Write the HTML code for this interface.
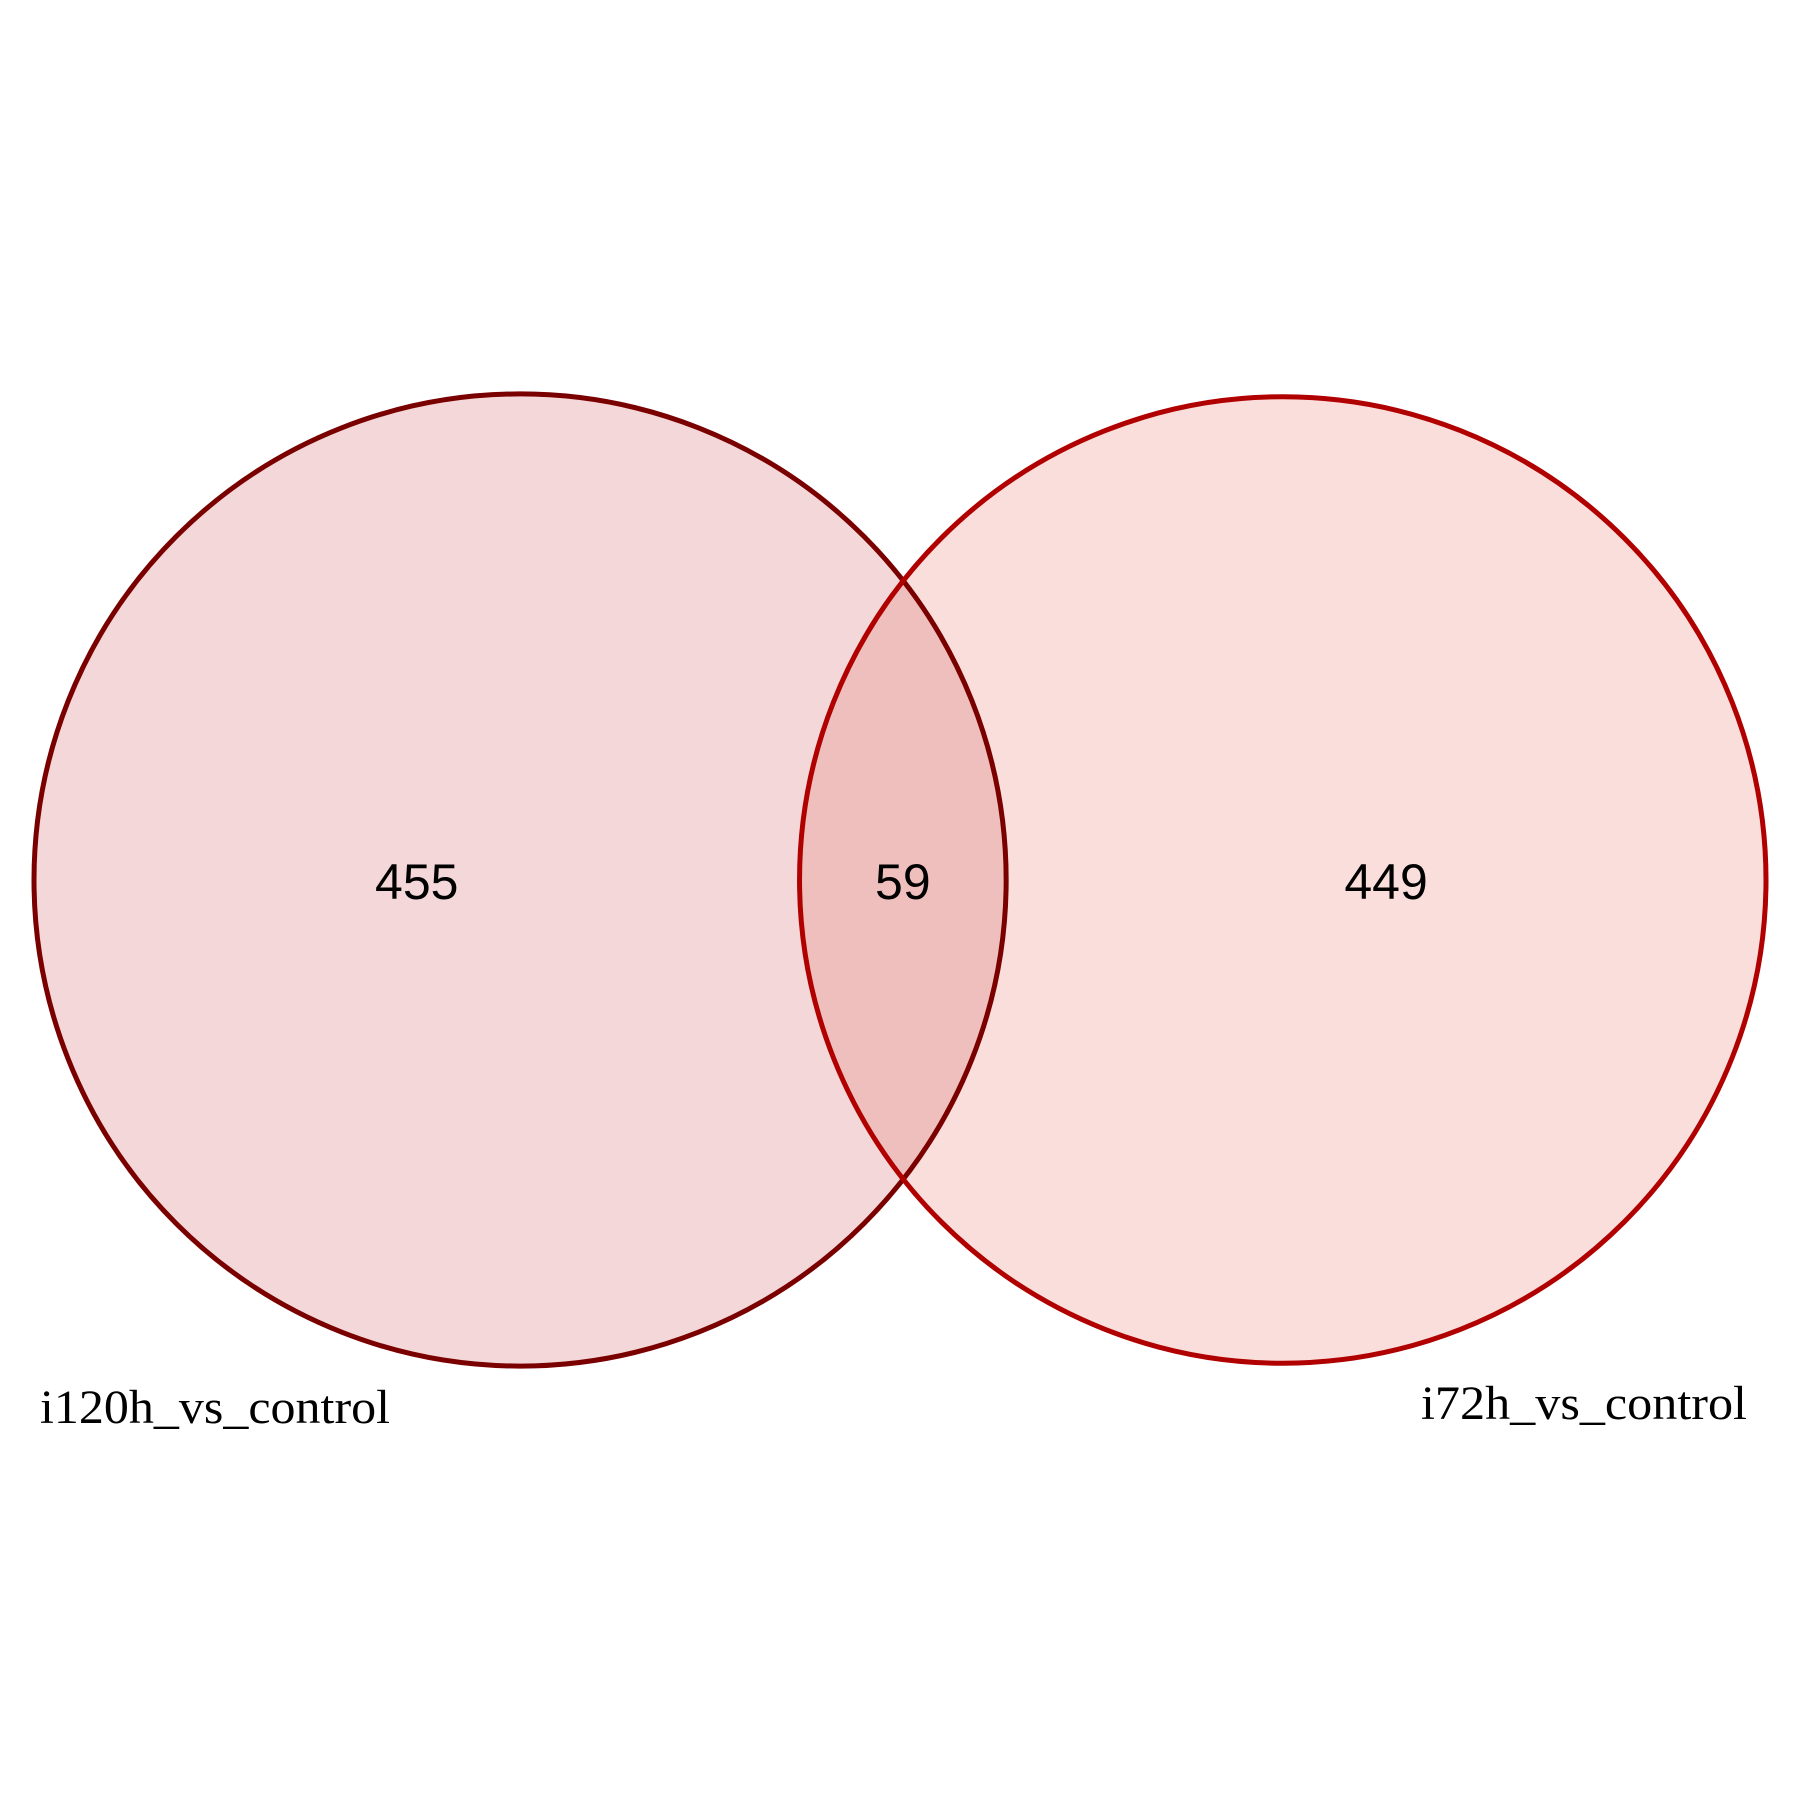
<!DOCTYPE html>
<html><head><meta charset="utf-8"><style>html,body{margin:0;padding:0;background:#fff}svg{display:block}</style></head>
<body>
<svg id="chart" width="1800" height="1800" viewBox="0 0 1800 1800" xmlns="http://www.w3.org/2000/svg">
<defs><clipPath id="clipLeft"><circle id="clipC" cx="520" cy="880" r="486"/></clipPath></defs>
<rect width="1800" height="1800" fill="#fff"/>
<g id="g"></g>
</svg>
<script>
const setNames = ["i120h_vs_control", "i72h_vs_control"];
const onlyCounts = [455, 449];
const sharedCount = [59];
const ns = "http://www.w3.org/2000/svg";
const g = document.getElementById('g');
const k = 21.44;
const totals = [onlyCounts[0] + sharedCount[0], onlyCounts[1] + sharedCount[0]];
const rL = k * Math.sqrt(totals[0]), rR = k * Math.sqrt(totals[1]);
const cy = 880;
const cxL = 34 + rL, cxR = 1766 - rR;
function mk(tag, attrs) { const e = document.createElementNS(ns, tag); for (const a in attrs) e.setAttribute(a, attrs[a]); g.appendChild(e); return e; }
document.getElementById('clipC').setAttribute('cx', cxL);
document.getElementById('clipC').setAttribute('r', rL);
let c1 = mk('circle', {cx: cxL, cy: cy, r: rL, fill: '#f4d7d8'});


let c2 = mk('circle', {cx: cxR, cy: cy, r: rR, fill: '#f9dedb'});


let ci = mk('circle', {cx: cxR, cy: cy, r: rR, fill: '#efbfbd', 'clip-path': 'url(#clipLeft)'});


let s1 = mk('circle', {cx: cxL, cy: cy, r: rL, fill: 'none', stroke: '#7a0000', 'stroke-width': 5});


let s2 = mk('circle', {cx: cxR, cy: cy, r: rR, fill: 'none', stroke: '#b00000', 'stroke-width': 5});


const interL = cxR - rR, interR = cxL + rL;
const midX = (interL + interR) / 2;
const numPos = [(cxL - rL + interL) / 2, midX, (interR + cxR + rR) / 2];
const numVals = [onlyCounts[0], sharedCount[0], onlyCounts[1]];
const numNames = ['count-i120h-only', 'count-shared', 'count-i72h-only'];
numVals.forEach((v, i) => {
  const t = mk('text', {x: numPos[i], y: 899, 'text-anchor': 'middle', 'font-family': '"Liberation Sans", sans-serif', 'font-size': 50, fill: '#000'});
  t.textContent = v;
  
  
});
const l1 = mk('text', {x: 40, y: 1423, 'font-family': '"Liberation Serif", serif', 'font-size': 48, fill: '#000', textLength: 350, lengthAdjust: 'spacingAndGlyphs'});
l1.textContent = setNames[0];


const l2 = mk('text', {x: 1747, y: 1419, 'text-anchor': 'end', 'font-family': '"Liberation Serif", serif', 'font-size': 48, fill: '#000', textLength: 326, lengthAdjust: 'spacingAndGlyphs'});
l2.textContent = setNames[1];


</script>
</body></html>
